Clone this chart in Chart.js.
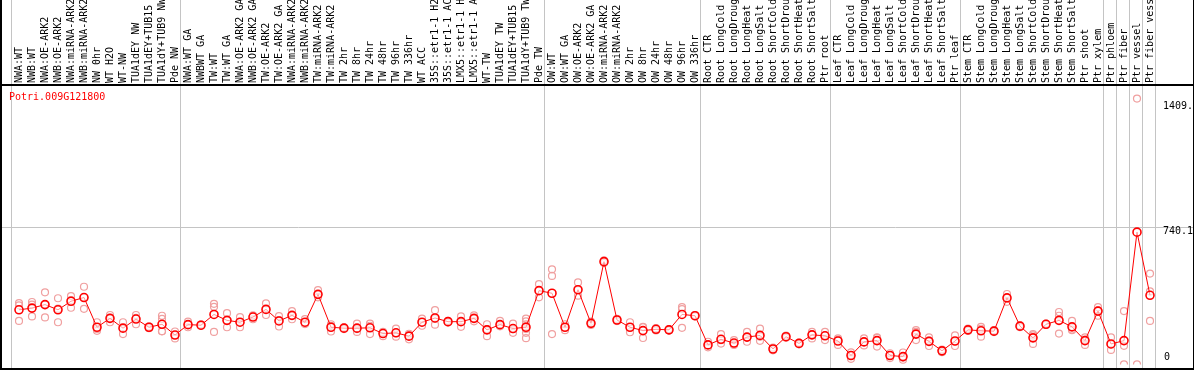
<!DOCTYPE html>
<html>
<head>
<meta charset="utf-8">
<script src="https://cdn.jsdelivr.net/npm/chart.js@4.4.1/dist/chart.umd.min.js"></script>
<style>
  html, body { margin: 0; padding: 0; background: #fff; }
  #graficoGene { display: block; }
</style>
</head>
<body>
<canvas id="graficoGene" width="1194" height="370"></canvas>
<script>
// amostras (eixo x)
const categorias = [
  'NWA:WT', 'NWB:WT', 'NWA:OE-ARK2', 'NWB:OE-ARK2', 'NWA:miRNA-ARK2', 'NWB:miRNA-ARK2',
  'NW 0hr', 'WT H2O', 'WT-NW', 'TUA1dEY NW', 'TUA1dEY+TUB15 NW', 'TUA1dY+TUB9 NW', 'Pde NW',
  'NWA:WT GA', 'NWBWT GA', 'TW:WT', 'TW:WT GA', 'NWA:OE-ARK2 GA', 'NWB:OE-ARK2 GA',
  'TW:OE-ARK2', 'TW:OE-ARK2 GA', 'NWA:miRNA-ARK2 GA', 'NWB:miRNA-ARK2 GA', 'TW:miRNA-ARK2',
  'TW:miRNA-ARK2 GA', 'TW 2hr', 'TW 8hr', 'TW 24hr', 'TW 48hr', 'TW 96hr', 'TW 336hr', 'WT ACC',
  '35S::etr1-1 H2O', '35S::etr1-1 ACC', 'LMX5::etr1-1 H2O', 'LMX5::etr1-1 ACC', 'WT-TW',
  'TUA1dEY TW', 'TUA1dEY+TUB15 TW', 'TUA1dY+TUB9 TW', 'Pde TW',
  'OW:WT', 'OW:WT GA', 'OW:OE-ARK2', 'OW:OE-ARK2 GA', 'OW:miRNA-ARK2', 'OW:miRNA-ARK2 GA',
  'OW 2hr', 'OW 8hr', 'OW 24hr', 'OW 48hr', 'OW 96hr', 'OW 336hr',
  'Root CTR', 'Root LongCold', 'Root LongDrought', 'Root LongHeat', 'Root LongSalt',
  'Root ShortCold', 'Root ShortDrought', 'Root ShortHeat', 'Root ShortSalt', 'Ptr root',
  'Leaf CTR', 'Leaf LongCold', 'Leaf LongDrought', 'Leaf LongHeat', 'Leaf LongSalt',
  'Leaf ShortCold', 'Leaf ShortDrought', 'Leaf ShortHeat', 'Leaf ShortSalt', 'Ptr leaf',
  'Stem CTR', 'Stem LongCold', 'Stem LongDrought', 'Stem LongHeat', 'Stem LongSalt',
  'Stem ShortCold', 'Stem ShortDrought', 'Stem ShortHeat', 'Stem ShortSalt', 'Ptr shoot',
  'Ptr xylem', 'Ptr phloem', 'Ptr fiber', 'Ptr vessel', 'Ptr fiber vessel'
];

// media por amostra
const medias = [
  294, 303, 322, 294, 340, 360, 200, 248, 195, 244, 200, 216, 158,
  214, 211, 269, 237, 227, 255, 296, 234, 264, 227, 377, 200, 195, 195, 197, 166, 170, 152,
  227, 250, 230, 230, 248, 186, 214, 193, 200, 397,
  383, 200, 402, 221, 553, 239, 200, 182, 189, 186, 269, 262,
  105, 135, 115, 147, 156, 83, 149, 113, 159, 154,
  126, 48, 121, 128, 48, 42, 163, 124, 73, 126,
  186, 181, 179, 358, 206, 143, 216, 237, 202, 128, 287,
  110, 128, 712, 372
];

// replicas por amostra
const replicas = [
  [330, 318, 234], [336, 322, 258], [388, 322, 253], [356, 300, 227], [368, 346, 305],
  [418, 362, 299], [227, 191, 181], [266, 250, 227], [227, 195, 163], [266, 250, 216],
  [205, 200, 195], [262, 245, 216, 179, 178], [177, 158, 140],
  [230, 214, 200], [215, 211, 207], [326, 310, 175], [276, 237, 200], [255, 227, 200],
  [264, 258, 243], [329, 296, 266], [260, 238, 204], [287, 262, 243], [244, 220, 217],
  [400, 377, 361], [216, 207, 177], [200, 195, 190], [220, 190, 175], [220, 208, 163],
  [175, 170, 152], [193, 168, 149], [165, 155, 135], [246, 227, 208], [292, 245, 214],
  [235, 230, 225], [259, 230, 202], [264, 248, 232], [216, 190, 152], [234, 214, 205],
  [220, 190, 170], [246, 232, 216, 205, 190, 170, 141], [432, 397, 361],
  [512, 476, 163], [216, 200, 184], [441, 400, 370], [230, 221, 212], [560, 553, 546],
  [245, 239, 233], [227, 200, 173], [202, 200, 142], [195, 189, 183], [190, 186, 182],
  [308, 298, 197], [266, 262, 258],
  [122, 105, 92], [163, 130, 112], [131, 110, 105], [175, 145, 122], [193, 149, 127],
  [90, 83, 76], [155, 149, 143], [118, 113, 108], [175, 162, 140], [175, 156, 131],
  [140, 133, 105], [65, 50, 30], [140, 121, 102], [145, 143, 96], [60, 50, 34],
  [64, 37, 25], [184, 175, 131], [145, 128, 99], [80, 73, 66], [156, 124, 99],
  [193, 186, 180], [202, 192, 149], [184, 179, 174], [379, 358, 337], [210, 206, 200],
  [163, 156, 110], [220, 216, 212], [282, 262, 166], [234, 188, 184], [145, 134, 105],
  [308, 291, 262],
  [145, 107, 78], [287, 100, 0], [1431, 0], [489, 393, 234]
];

// inicio de cada grupo (linhas cinzas)
const inicioGrupos = [0, 13, 41, 53, 63, 73, 84, 85, 86, 87, 88];

const ticksY = [0, 740.1, 1409];
const rotulosY = ['0', '740.1', '1409.'];
const nomeGene = 'Potri.009G121800';

const pontosReplicas = [];
replicas.forEach((lista, i) => {
  lista.forEach(v => pontosReplicas.push({ x: categorias[i], y: v }));
});

const FONTE = '10px "DejaVu Sans Mono", monospace';

const molduraPlugin = {
  id: 'moldura',
  beforeDraw(chart) {
    const ctx = chart.ctx;
    const x = chart.scales.x;
    const y = chart.scales.y;
    const W = chart.width, H = chart.height;
    const passo = x.getPixelForValue(1) - x.getPixelForValue(0);
    ctx.save();
    ctx.fillStyle = '#fff';
    ctx.fillRect(0, 0, W, H);

    ctx.strokeStyle = '#c4c4c4';
    ctx.lineWidth = 1;
    inicioGrupos.forEach(i => {
      const px = Math.round(x.getPixelForValue(0) + i * passo - 8) + 0.5;
      ctx.beginPath();
      ctx.moveTo(px, 0);
      ctx.lineTo(px, H);
      ctx.stroke();
    });
    const gy = Math.round(y.getPixelForValue(ticksY[1])) + 0.5;
    ctx.beginPath();
    ctx.moveTo(0, gy);
    ctx.lineTo(W, gy);
    ctx.stroke();
    ctx.restore();
  },
  afterDraw(chart) {
    const ctx = chart.ctx;
    const x = chart.scales.x;
    const y = chart.scales.y;
    const W = chart.width, H = chart.height;
    ctx.save();

    // moldura preta
    ctx.fillStyle = '#000';
    ctx.fillRect(0, 0, 2, H);
    ctx.fillRect(0, H - 2, W, 2);
    ctx.fillRect(0, 84, W, 2);
    ctx.fillRect(W - 1, 0, 1, H);

    // rotulos das amostras
    ctx.font = FONTE;
    ctx.fillStyle = '#000';
    ctx.textAlign = 'left';
    ctx.textBaseline = 'middle';
    categorias.forEach((nome, i) => {
      ctx.save();
      ctx.translate(x.getPixelForValue(i) + 0.5, 83);
      ctx.rotate(-Math.PI / 2);
      ctx.fillText(nome, 0, 0);
      ctx.restore();
    });

    // nome do gene
    ctx.fillStyle = '#ff0000';
    ctx.fillText(nomeGene, 9, 97);

    // valores do eixo y
    ctx.fillStyle = '#000';
    ticksY.forEach((v, k) => {
      let py = y.getPixelForValue(v) + 4;
      py = Math.min(py, chart.chartArea.bottom - 6.5);
      ctx.fillText(rotulosY[k], k === 0 ? 1164 : 1163, py);
    });
    ctx.restore();
  }
};

const ctx = document.getElementById('graficoGene').getContext('2d');
new Chart(ctx, {
  type: 'line',
  data: {
    labels: categorias,
    datasets: [
      {
        label: 'media',
        data: medias,
        borderColor: '#ff0000',
        borderWidth: 1,
        pointRadius: 4,
        pointBorderWidth: 1.6,
        pointBorderColor: '#ff0000',
        pointBackgroundColor: 'rgba(255,255,255,0.6)',
        tension: 0,
        fill: false,
        order: 0
      },
      {
        type: 'scatter',
        label: 'replicas',
        data: pontosReplicas,
        showLine: false,
        pointRadius: 3.5,
        pointBorderWidth: 1.2,
        pointBorderColor: '#f0a0a0',
        pointBackgroundColor: 'rgba(0,0,0,0)',
        order: 1
      }
    ]
  },
  options: {
    responsive: false,
    animation: false,
    devicePixelRatio: 1,
    layout: { padding: { left: 12.5, right: 37.5, top: 85, bottom: 2 } },
    plugins: { legend: { display: false }, tooltip: { enabled: false } },
    scales: {
      x: { type: 'category', offset: true, display: false },
      y: { type: 'linear', min: 0, max: 1504, display: false }
    }
  },
  plugins: [molduraPlugin]
});
</script>
</body>
</html>
